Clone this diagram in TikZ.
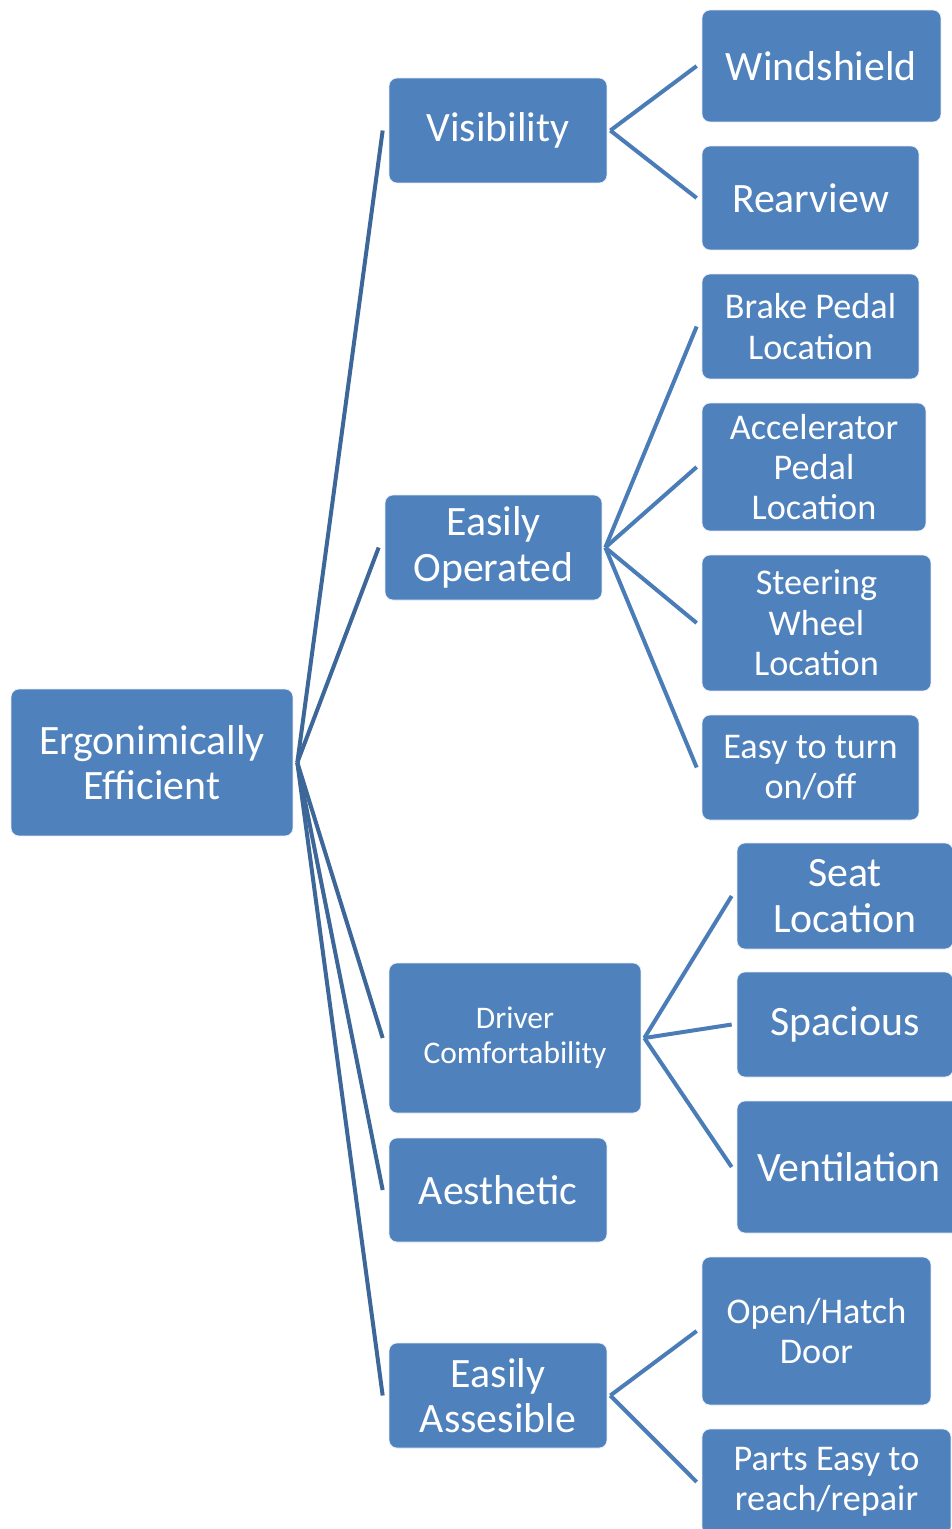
\documentclass[tikz,border=0pt]{standalone}
\usepackage{fontspec}
\setmainfont{Carlito}
\usetikzlibrary{positioning}
\definecolor{boxBlue}{HTML}{4F81BD}
\definecolor{trunkBlue}{HTML}{3D6799}
\definecolor{twigBlue}{HTML}{4A7CB8}

\newcommand{\bigtxt}{\fontsize{23.8}{26}\selectfont}
\newcommand{\midtxt}{\fontsize{20.6}{23}\selectfont}
\newcommand{\smalltxt}{\fontsize{17.9}{19.8}\selectfont}

\begin{document}
\begin{tikzpicture}[x=0.02cm, y=-0.02cm,
    box/.style={fill=boxBlue, draw=white!85!boxBlue, line width=0.4pt,
      rounded corners=0.16cm, text=white, align=center, inner sep=0pt},
    trunk/.style={trunkBlue, line width=0.08cm},
    twig/.style={twigBlue, line width=0.08cm}]
    \useasboundingbox (0,0) rectangle (951,1529);
    % root
    \node[box, minimum width=5.64cm, minimum height=2.94cm, font=\bigtxt]
      (root) at (152,762.5) {Ergonimically\\Efficient};
    % first level
    \node[box, minimum width=4.36cm, minimum height=2.1cm, font=\bigtxt]
      (vis) at (498,130.5) {Visibility};
    \node[box, minimum width=4.34cm, minimum height=2.1cm, font=\bigtxt]
      (eop) at (493.5,547.5) {Easily\\Operated};
    \node[box, minimum width=5.04cm, minimum height=3.0cm, font=\smalltxt]
      (drv) at (515,1038) {Driver\\Comfortability};
    \node[box, minimum width=4.36cm, minimum height=2.08cm, font=\bigtxt]
      (aes) at (498,1190) {Aesthetic};
    \node[box, minimum width=4.36cm, minimum height=2.1cm, font=\bigtxt]
      (eas) at (498,1395.5) {Easily\\Assesible};
    % second level
    \node[box, minimum width=4.78cm, minimum height=2.24cm, font=\bigtxt]
      (wind) at (821.5,66) {Windshield};
    \node[box, minimum width=4.34cm, minimum height=2.08cm, font=\bigtxt]
      (rear) at (810.5,198) {Rearview};
    \node[box, minimum width=4.34cm, minimum height=2.1cm, font=\midtxt]
      (brake) at (810.5,326.5) {Brake Pedal\\Location};
    \node[box, minimum width=4.48cm, minimum height=2.56cm, font=\midtxt]
      (accel) at (814,467) {Accelerator\\Pedal\\Location};
    \node[box, minimum width=4.58cm, minimum height=2.72cm, font=\midtxt]
      (steer) at (816.5,623) {Steering\\Wheel\\Location};
    \node[box, minimum width=4.34cm, minimum height=2.1cm, font=\midtxt]
      (onoff) at (810.5,767.5) {Easy to turn\\on/off};
    \node[box, minimum width=4.32cm, minimum height=2.12cm, font=\bigtxt]
      (seat) at (845,896) {Seat\\Location};
    \node[box, minimum width=4.32cm, minimum height=2.1cm, font=\bigtxt]
      (spac) at (845,1024.5) {Spacious};
    \node[box, minimum width=4.48cm, minimum height=2.64cm, font=\bigtxt]
      (vent) at (849,1167) {Ventilation};
    \node[box, minimum width=4.58cm, minimum height=2.96cm, font=\midtxt]
      (door) at (816.5,1331) {Open/Hatch\\Door};
    \node[box, minimum width=4.98cm, minimum height=2.12cm, font=\midtxt]
      (parts) at (826.5,1482) {Parts Easy to\\reach/repair};
    % connectors
    \foreach \kid in {vis,eop,drv,aes,eas}
      \draw[trunk] ([xshift=0.08cm]root.east) -- ([xshift=-0.12cm]\kid.west);
    \foreach \mom/\kid in {vis/wind, vis/rear, eop/brake, eop/accel, eop/steer,
        eop/onoff, drv/seat, drv/spac, drv/vent, eas/door, eas/parts}
      \draw[twig] ([xshift=0.06cm]\mom.east) -- ([xshift=-0.1cm]\kid.west);
\end{tikzpicture}
\end{document}
